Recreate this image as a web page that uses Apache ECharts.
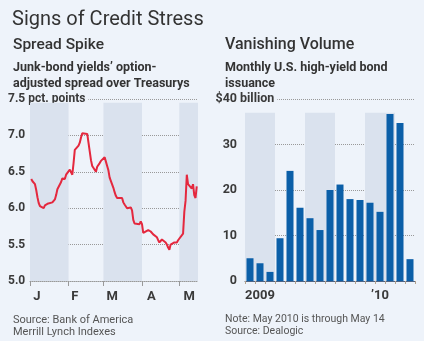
<!DOCTYPE html>
<html><head><meta charset="utf-8">
<script src="https://cdn.jsdelivr.net/npm/echarts@6/dist/echarts.min.js"></script>
<style>html,body{margin:0;padding:0;background:#eef3fa}#c{width:424px;height:341px}</style>
</head><body><div id="c"></div>
<script>
// Left chart: junk-bond spread (day of year 2010, pct. points)
const spreadDays = [1,2,4,5,6,7,8,11,12,13,14,15,18,19,20,21,22,25,26,27,28,29,32,33,34,35,36,39,40,41,42,43,46,47,48,49,50,53,54,55,56,57,60,61,62,63,64,67,68,69,70,71,74,75,76,77,78,81,82,83,84,85,88,89,90,91,92,95,96,97,98,99,102,103,104,105,106,109,110,111,112,113,116,117,118,119,120,123,124,125,126,127,130,131,132,133,134];
const spreadValues = [6.40,6.37,6.33,6.25,6.15,6.07,6.03,6.00,6.04,6.02,6.06,6.05,6.08,6.10,6.12,6.18,6.26,6.36,6.41,6.42,6.40,6.46,6.53,6.52,6.46,6.62,6.80,6.86,6.90,6.97,7.03,7.02,7.02,6.90,6.78,6.66,6.58,6.50,6.57,6.58,6.62,6.65,6.70,6.64,6.58,6.52,6.42,6.28,6.22,6.17,6.14,6.12,6.14,6.08,6.05,6.03,6.00,6.01,5.97,5.84,5.79,5.80,5.78,5.82,5.78,5.66,5.64,5.70,5.69,5.68,5.66,5.64,5.60,5.56,5.53,5.55,5.57,5.53,5.50,5.46,5.43,5.50,5.53,5.51,5.53,5.56,5.58,5.65,5.95,6.10,6.46,6.33,6.27,6.33,6.18,6.14,6.30];
const monthStarts = [0,31,59,90,120];
const monthLabelPos = [5.5,36,66,97.5,128];
const monthLabels = ['J','F','M','A','M'];
const spreadTicks = [5.0,5.5,6.0,6.5,7.0,7.5];

// Right chart: monthly U.S. high-yield bond issuance ($ billion)
const issuanceMonths = ['Jan09','Feb09','Mar09','Apr09','May09','Jun09','Jul09','Aug09','Sep09','Oct09','Nov09','Dec09','Jan10','Feb10','Mar10','Apr10','May10'];
const issuanceValues = [5.0,3.9,2.0,9.4,24.2,16.1,13.8,11.2,20.0,21.2,18.0,17.8,17.2,15.2,36.7,34.7,4.8];
const yearLabels = {1:'2009', 13:'\u201910'};
const issuanceTicks = [0,10,20,30,40];

const BG = '#eef3fa', BAND = '#dae2ee', TXT = '#3a3a3a';
const FONT = "Roboto, sans-serif";
const chart = echarts.init(document.getElementById('c'), null, {renderer:'canvas'});
chart.setOption({
  backgroundColor: BG,
  animation: false,
  textStyle: {fontFamily: FONT},
  title: [
    {text:'Signs of Credit Stress', left:7, top:5, textStyle:{fontFamily:FONT, fontSize:20, fontWeight:'normal', color:'#333'}},
    {text:'Spread Spike', left:8, top:32, textStyle:{fontFamily:FONT, fontSize:15.5, fontWeight:500, color:'#333'}},
    {text:'Vanishing Volume', left:220, top:32, textStyle:{fontFamily:FONT, fontSize:16, fontWeight:500, color:'#333'}},
    {text:"Junk-bond yields\u2019 option-\nadjusted spread over Treasurys", left:8, top:55, textStyle:{fontFamily:FONT, fontSize:12.5, lineHeight:16, fontWeight:'bold', color:'#333'}},
    {text:'Monthly U.S. high-yield bond\nissuance', left:220, top:55, textStyle:{fontFamily:FONT, fontSize:12.5, lineHeight:16, fontWeight:'bold', color:'#333'}},
    {text:'Source: Bank of America\nMerrill Lynch Indexes', left:8, top:309, textStyle:{fontFamily:FONT, fontSize:11, lineHeight:12, fontWeight:'normal', color:'#555'}},
    {text:'Note: May 2010 is through May 14\nSource: Dealogic', left:220, top:308, textStyle:{fontFamily:FONT, fontSize:10.5, lineHeight:12, fontWeight:'normal', color:'#555'}}
  ],
  grid: [
    {left:30, right:226, top:99, bottom:60},
    {left:245, right:9, top:99, bottom:60}
  ],
  xAxis: [
    {type:'value', gridIndex:0, min:0, max:135,
     axisLine:{show:true, lineStyle:{color:'#999', type:'dotted'}},
     axisTick:{show:true, customValues:monthStarts, length:5, lineStyle:{color:'#999'}},
     axisLabel:{customValues:monthLabelPos, margin:9, color:TXT, fontWeight:'bold', fontSize:13, fontFamily:FONT,
       formatter:(v)=>{let i=monthLabelPos.indexOf(v);return i>=0?monthLabels[i]:'';}},
     splitLine:{show:false}},
    {type:'category', gridIndex:1, data:issuanceMonths, boundaryGap:true,
     axisLine:{show:true, lineStyle:{color:'#4d6587', width:1}},
     axisTick:{show:true, interval:0, length:3, lineStyle:{color:'#b3a28c'}},
     axisLabel:{interval:(i)=>i in yearLabels, formatter:(v,i)=>yearLabels[i]||'', margin:8, color:TXT, fontWeight:'bold', fontSize:13, fontFamily:FONT},
     splitLine:{show:false}},
    {type:'value', gridIndex:1, min:0, max:17, show:true,
     axisLine:{show:false}, axisLabel:{show:false}, splitLine:{show:false},
     axisTick:{show:true, customValues:[12], length:17, lineStyle:{color:'#888'}}}
  ],
  yAxis: [
    {type:'value', gridIndex:0, min:5, max:7.5, interval:0.5,
     axisLine:{show:false}, axisTick:{show:false},
     axisLabel:{align:'left', margin:22, color:TXT, fontWeight:'bold', fontSize:12, fontFamily:FONT,
       backgroundColor:BG, padding:[0,3,0,0],
       formatter:(v)=>v===7.5?'7.5 pct. points':v.toFixed(1)},
     splitLine:{show:true, lineStyle:{color:'#999', type:'dotted'}}},
    {type:'value', gridIndex:1, min:0, max:40, interval:10,
     axisLine:{show:false}, axisTick:{show:false},
     axisLabel:{align:'right', margin:8, color:TXT, fontWeight:'bold', fontSize:12.5, fontFamily:FONT,
       formatter:(v)=>v===40?'$40':String(v)},
     splitLine:{show:true, lineStyle:{color:'#999', type:'dotted'}}},
    {type:'value', gridIndex:1, min:0, max:40, interval:10, position:'left',
     axisLine:{show:false}, axisTick:{show:false}, splitLine:{show:false},
     axisLabel:{align:'left', margin:5, color:TXT, fontWeight:'bold', fontSize:12.5, fontFamily:FONT,
       backgroundColor:BG, padding:[0,3,0,0],
       formatter:(v)=>v===40?'billion':''}}
  ],
  series: [
    {type:'line', xAxisIndex:0, yAxisIndex:0, showSymbol:false, z:3,
     data: spreadDays.map((d,i)=>[d, spreadValues[i]]),
     lineStyle:{color:'#e4283e', width:2}, 
     markArea:{silent:true, itemStyle:{color:BAND}, z:1,
       data:[[{xAxis:monthStarts[0], yAxis:5},{xAxis:monthStarts[1], yAxis:7.45}],
             [{xAxis:monthStarts[2], yAxis:5},{xAxis:monthStarts[3], yAxis:7.45}],
             [{xAxis:monthStarts[4], yAxis:5},{xAxis:135, yAxis:7.45}]]}},
    {type:'line', xAxisIndex:2, yAxisIndex:1, data:[], showSymbol:false, z:1,
     markArea:{silent:true, itemStyle:{color:BAND},
       data:[[{xAxis:0, yAxis:0},{xAxis:3, yAxis:37}],
             [{xAxis:6, yAxis:0},{xAxis:9, yAxis:37}],
             [{xAxis:12, yAxis:0},{xAxis:15, yAxis:37}]]}},
    {type:'bar', xAxisIndex:1, yAxisIndex:1, data:issuanceValues, barWidth:7, z:3,
     itemStyle:{color:'#0b5fa8'}}
  ]
});
</script></body></html>
